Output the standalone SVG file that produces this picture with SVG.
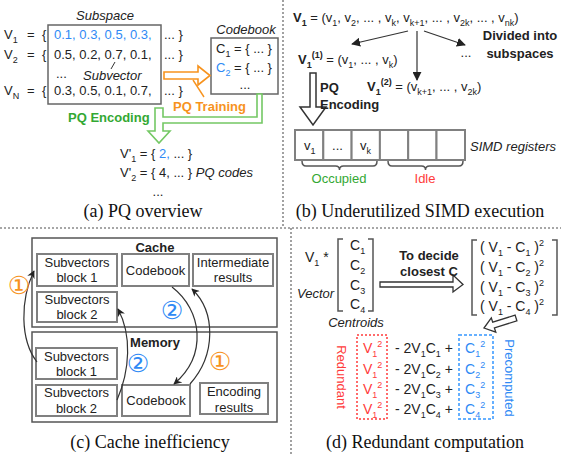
<svg xmlns="http://www.w3.org/2000/svg" width="561" height="455" viewBox="0 0 561 455">
<defs>
<style>
.t{font-family:"Liberation Sans",Arial,sans-serif;font-size:13px;fill:#222}
.b{font-weight:bold}
.i{font-style:italic}
.s14{font-size:14px}
.cap{font-family:"Liberation Serif","Times New Roman",serif;font-size:18px;fill:#111}
.sub{font-size:9px;baseline-shift:-3.5px}
.sup{font-size:9px;baseline-shift:6px}
.blue{fill:#2f8af5}
.red{fill:#ff3b3b}
.grn{fill:#33a833}
.org{fill:#f7931e}
.div{stroke:#8a8a8a;stroke-width:1.6;stroke-dasharray:2,2;fill:none}
.box{fill:none;stroke:#666;stroke-width:1.5}
.gbox{fill:#fff;stroke:#808080;stroke-width:2}
.obox{fill:none;stroke:#555;stroke-width:1.5}
.ln{stroke:#333;stroke-width:1.2;fill:none}
.brk{stroke:#555;stroke-width:1.5;fill:none}
.circ{font-family:"DejaVu Sans",sans-serif;font-size:25px;text-anchor:middle}
.mid{text-anchor:middle}
</style>
<marker id="ah" viewBox="0 0 10 10" refX="9" refY="5" markerWidth="9" markerHeight="9" markerUnits="userSpaceOnUse" orient="auto">
<path d="M0,0 L10,5 L0,10 Z" fill="#222"/>
</marker>
<marker id="ah2" viewBox="0 0 10 10" refX="9" refY="5" markerWidth="8" markerHeight="8" markerUnits="userSpaceOnUse" orient="auto">
<path d="M0,0 L10,5 L0,10 L3,5 Z" fill="#222"/>
</marker>
</defs>
<rect width="561" height="455" fill="#fff"/>

<!-- panel dividers -->
<g id="dividers">
<line class="div" x1="283" y1="0" x2="283" y2="228"/>
<line class="div" x1="0" y1="228" x2="561" y2="228"/>
<line class="div" x1="291" y1="228" x2="291" y2="455"/>
</g>

<!-- ===== Panel (a) ===== -->
<g id="a-subspace">
<text class="t i" x="105" y="20" text-anchor="middle">Subspace</text>
<rect class="box" x="48" y="25" width="113" height="79"/>
<text class="t" x="4" y="39">V<tspan class="sub">1</tspan><tspan x="27">=</tspan><tspan x="42">{</tspan></text>
<text class="t blue" x="54" y="39">0.1, 0.3, 0.5, 0.3,</text>
<text class="t" x="164" y="39">... }</text>
<text class="t" x="4" y="59">V<tspan class="sub">2</tspan><tspan x="27">=</tspan><tspan x="42">{</tspan></text>
<text class="t" x="54" y="59">0.5, 0.2, 0.7, 0.1,</text>
<text class="t" x="164" y="59">... }</text>
<text class="t" x="56" y="78" font-size="10">...</text>
<text class="t i" x="83" y="80">Subvector</text>
<line x1="115" y1="62" x2="111" y2="69" stroke="#333" stroke-width="1"/>
<text class="t" x="4" y="95">V<tspan class="sub">N</tspan><tspan x="27">=</tspan><tspan x="42">{</tspan></text>
<text class="t" x="54" y="95">0.3, 0.5, 0.1, 0.7,</text>
<text class="t" x="164" y="95">... }</text>
</g>

<g id="a-codebook">
<text class="t i" x="246" y="34" text-anchor="middle">Codebook</text>
<rect class="box" x="211" y="38" width="67" height="56" stroke="#555"/>
<text class="t" x="216" y="53">C<tspan class="sub">1</tspan> = { ... }</text>
<text class="t" x="216" y="72"><tspan class="blue">C<tspan class="sub">2</tspan></tspan> = { ... }</text>
<text class="t" x="245" y="89" text-anchor="middle">...</text>
</g>

<g id="a-connectors">
<polygon points="164,72 198,72 198,66 210,75.5 198,85 198,79 164,79" fill="#fff" stroke="#f7931e" stroke-width="1.6"/>
<line x1="193" y1="80" x2="204" y2="97" stroke="#f7931e" stroke-width="1.4"/>
<text class="t b org" x="173" y="111">PQ Training</text>
<polygon points="155,108 163,108 163,117 257,117 257,94 262,94 262,123 163,123 163,131 170,131 159,143 148,131 155,131" fill="#fff" stroke="#74c864" stroke-width="1.6"/>
<text class="t b grn" x="68" y="122">PQ Encoding</text>
</g>

<g id="a-codes">
<text class="t" x="120" y="158">V'<tspan class="sub">1</tspan> = { <tspan class="blue">2,</tspan> ... }</text>
<text class="t" x="120" y="177">V'<tspan class="sub">2</tspan> = { 4, ... } <tspan class="i">PQ codes</tspan></text>
<text class="t" x="158" y="196" text-anchor="middle" font-size="10">...</text>
</g>
<text class="cap" x="143" y="217" text-anchor="middle">(a) PQ overview</text>

<!-- ===== Panel (b) ===== -->
<g id="b-vector">
<text class="t" x="293" y="22"><tspan class="b">V<tspan class="sub">1</tspan></tspan> = (v<tspan class="sub">1</tspan>, v<tspan class="sub">2</tspan>, ... , v<tspan class="sub">k</tspan>, v<tspan class="sub">k+1</tspan>, ... , v<tspan class="sub">2k</tspan>, ... , v<tspan class="sub">nk</tspan>)</text>
</g>
<g id="b-connectors">
<line class="ln" x1="408" y1="31" x2="352" y2="44" marker-end="url(#ah)"/>
<line class="ln" x1="417" y1="31" x2="417" y2="80" marker-end="url(#ah)"/>
<line class="ln" x1="424" y1="31" x2="465" y2="45" marker-end="url(#ah)"/>
<polygon points="310,73 316,73 316,107 326,107 313,125 300,107 310,107" fill="#fff" stroke="#333" stroke-width="1.5"/>
</g>
<g id="b-subspaces">
<text class="t" x="298" y="64"><tspan class="b">V<tspan class="sub">1</tspan><tspan class="sup">(1)</tspan></tspan> = (v<tspan class="sub">1</tspan>, ... , v<tspan class="sub">k</tspan>)</text>
<text class="t" x="367" y="91"><tspan class="b">V<tspan class="sub">1</tspan><tspan class="sup">(2)</tspan></tspan> = (v<tspan class="sub">k+1</tspan>, ... , v<tspan class="sub">2k</tspan>)</text>
<text class="t" x="466" y="57" text-anchor="middle" font-size="10">...</text>
<text class="t b" x="520" y="40" text-anchor="middle">Divided into</text>
<text class="t b" x="520" y="58" text-anchor="middle">subspaces</text>
<text class="t b" x="320" y="92">PQ</text>
<text class="t b" x="320" y="109">Encoding</text>
</g>
<g id="b-simd">
<rect class="gbox" x="295" y="130" width="28.3" height="30"/>
<rect class="gbox" x="323.3" y="130" width="28.3" height="30"/>
<rect class="gbox" x="351.6" y="130" width="28.3" height="30"/>
<rect class="gbox" x="379.9" y="130" width="28.3" height="30"/>
<rect class="gbox" x="408.2" y="130" width="28.3" height="30"/>
<rect class="gbox" x="436.5" y="130" width="28.5" height="30"/>
<text class="t" x="304" y="150">v<tspan class="sub">1</tspan></text>
<text class="t" x="337.5" y="150" text-anchor="middle" font-size="10">...</text>
<text class="t" x="360" y="150">v<tspan class="sub">k</tspan></text>
<text class="t i" x="470" y="151">SIMD registers</text>
<path class="brk" stroke-width="1.2" d="M302,161 Q302,166 306,166 L335.5,166 Q339.5,166 339.5,170 Q339.5,166 343.5,166 L373,166 Q377,166 377,161"/>
<path class="brk" stroke-width="1.2" d="M388,161 Q388,166 392,166 L421.5,166 Q425.5,166 425.5,170 Q425.5,166 429.5,166 L459,166 Q463,166 463,161"/>
<text class="t grn" x="339" y="183" text-anchor="middle">Occupied</text>
<text class="t red" x="425" y="183" text-anchor="middle">Idle</text>
</g>
<text class="cap" x="420" y="217" text-anchor="middle">(b) Underutilized SIMD execution</text>

<!-- ===== Panel (c) ===== -->
<g id="c-cache">
<rect class="obox" x="32" y="238" width="245" height="89"/>
<text class="t b" x="155" y="252" text-anchor="middle" font-size="15">Cache</text>
</g>
<g id="c-cache-sub1">
<rect class="gbox" x="37" y="254" width="80" height="32"/>
<text class="t mid" x="77" y="267">Subvectors</text>
<text class="t mid" x="77" y="282">block 1</text>
</g>
<g id="c-cache-sub2">
<rect class="gbox" x="37" y="292" width="80" height="30"/>
<text class="t mid" x="77" y="304">Subvectors</text>
<text class="t mid" x="77" y="319">block 2</text>
</g>
<g id="c-cache-codebook">
<rect class="gbox" x="122" y="254" width="67" height="32"/>
<text class="t mid" x="155.5" y="275">Codebook</text>
</g>
<g id="c-cache-inter">
<rect class="gbox" x="193" y="254" width="80" height="32"/>
<text class="t mid" x="233" y="267">Intermediate</text>
<text class="t mid" x="233" y="282">results</text>
</g>
<g id="c-memory">
<rect class="obox" x="32" y="332" width="245" height="90"/>
<text class="t b" x="155" y="347" text-anchor="middle" font-size="15">Memory</text>
</g>
<g id="c-mem-sub1">
<rect class="gbox" x="36" y="348" width="81" height="31"/>
<text class="t mid" x="76.5" y="361">Subvectors</text>
<text class="t mid" x="76.5" y="376">block 1</text>
</g>
<g id="c-mem-sub2">
<rect class="gbox" x="36" y="385" width="81" height="31"/>
<text class="t mid" x="76.5" y="397">Subvectors</text>
<text class="t mid" x="76.5" y="413">block 2</text>
</g>
<g id="c-mem-codebook">
<rect class="gbox" x="122" y="385" width="68" height="31"/>
<text class="t mid" x="156" y="405">Codebook</text>
</g>
<g id="c-mem-enc">
<rect class="gbox" x="200" y="383" width="68" height="31"/>
<text class="t mid" x="234" y="396">Encoding</text>
<text class="t mid" x="234" y="412">results</text>
</g>
<g id="c-connectors">
<path class="ln" d="M37,362 C20,340 20,300 34,271" marker-end="url(#ah2)"/>
<path class="ln" d="M117,400 C130,370 132,335 118,309" marker-end="url(#ah2)"/>
<path class="ln" d="M172,287 C202,310 208,355 174,384" marker-end="url(#ah2)"/>
<path class="ln" d="M190,384 C216,355 216,312 192,289" marker-end="url(#ah2)"/>
</g>
<g id="c-steps">
<text class="circ org" x="19" y="294">①</text>
<text class="circ blue" x="172" y="319">②</text>
<text class="circ blue" x="138" y="372">②</text>
<text class="circ org" x="220" y="370">①</text>
</g>
<text class="cap" x="150" y="448" text-anchor="middle">(c) Cache inefficiency</text>

<!-- ===== Panel (d) ===== -->
<g id="d-vector">
<text class="t s14" x="305" y="262">V<tspan class="sub">1</tspan> *</text>
<text class="t i" x="297" y="298">Vector</text>
</g>
<g id="d-centroids">
<path class="brk" d="M343,239 H338 V311 H343 M368,239 H373 V311 H368"/>
<text class="t s14" x="350" y="250">C<tspan class="sub">1</tspan></text>
<text class="t s14" x="350" y="270">C<tspan class="sub">2</tspan></text>
<text class="t s14" x="350" y="290">C<tspan class="sub">3</tspan></text>
<text class="t s14" x="350" y="309">C<tspan class="sub">4</tspan></text>
<text class="t i" x="356" y="327" text-anchor="middle">Centroids</text>
</g>
<g id="d-connectors">
<polygon points="380,282 453,282 453,275 463,284.5 453,292 453,287 380,287" fill="#fff" stroke="#333" stroke-width="1.3"/>
<polygon points="515.1,315.1 492.7,322.2 491.3,317.9 484,328 495.8,332.2 494.4,327.9 516.9,320.9" fill="#fff" stroke="#333" stroke-width="1.3"/>
</g>
<g id="d-label">
<text class="t b" x="429" y="260" text-anchor="middle">To decide</text>
<text class="t b" x="429" y="276" text-anchor="middle">closest C</text>
</g>
<g id="d-distances">
<path class="brk" d="M477,240 H472 V315 H477 M552,240 H557 V315 H552"/>
<text class="t s14" x="480" y="252">( V<tspan class="sub">1</tspan> - C<tspan class="sub">1</tspan> )<tspan class="sup">2</tspan></text>
<text class="t s14" x="480" y="272">( V<tspan class="sub">1</tspan> - C<tspan class="sub">2</tspan> )<tspan class="sup">2</tspan></text>
<text class="t s14" x="480" y="292">( V<tspan class="sub">1</tspan> - C<tspan class="sub">3</tspan> )<tspan class="sup">2</tspan></text>
<text class="t s14" x="480" y="311">( V<tspan class="sub">1</tspan> - C<tspan class="sub">4</tspan> )<tspan class="sup">2</tspan></text>
</g>
<g id="d-expansion">
<rect x="357" y="335" width="30" height="84" fill="none" stroke="#ff6b6b" stroke-width="2" stroke-dasharray="2,2"/>
<rect x="459" y="335" width="34" height="84" fill="none" stroke="#66b0ff" stroke-width="2" stroke-dasharray="3,2"/>
<text class="t s14 red" x="363" y="353">V<tspan class="sub">1</tspan><tspan class="sup">2</tspan></text>
<text class="t s14 red" x="363" y="374">V<tspan class="sub">1</tspan><tspan class="sup">2</tspan></text>
<text class="t s14 red" x="363" y="394">V<tspan class="sub">1</tspan><tspan class="sup">2</tspan></text>
<text class="t s14 red" x="363" y="414">V<tspan class="sub">1</tspan><tspan class="sup">2</tspan></text>
<text class="t s14" x="395" y="353">- 2V<tspan class="sub">1</tspan>C<tspan class="sub">1</tspan> +</text>
<text class="t s14" x="395" y="374">- 2V<tspan class="sub">1</tspan>C<tspan class="sub">2</tspan> +</text>
<text class="t s14" x="395" y="394">- 2V<tspan class="sub">1</tspan>C<tspan class="sub">3</tspan> +</text>
<text class="t s14" x="395" y="414">- 2V<tspan class="sub">1</tspan>C<tspan class="sub">4</tspan> +</text>
<text class="t s14 blue" x="465" y="353">C<tspan class="sub">1</tspan><tspan class="sup">2</tspan></text>
<text class="t s14 blue" x="465" y="374">C<tspan class="sub">2</tspan><tspan class="sup">2</tspan></text>
<text class="t s14 blue" x="465" y="394">C<tspan class="sub">3</tspan><tspan class="sup">2</tspan></text>
<text class="t s14 blue" x="465" y="414">C<tspan class="sub">4</tspan><tspan class="sup">2</tspan></text>
<text class="t red" font-size="13.5" text-anchor="middle" transform="translate(337,377) rotate(90)">Redundant</text>
<text class="t blue" font-size="13.5" text-anchor="middle" transform="translate(505,378) rotate(90)">Precomputed</text>
</g>
<text class="cap" x="425" y="448" text-anchor="middle">(d) Redundant computation</text>
</svg>
